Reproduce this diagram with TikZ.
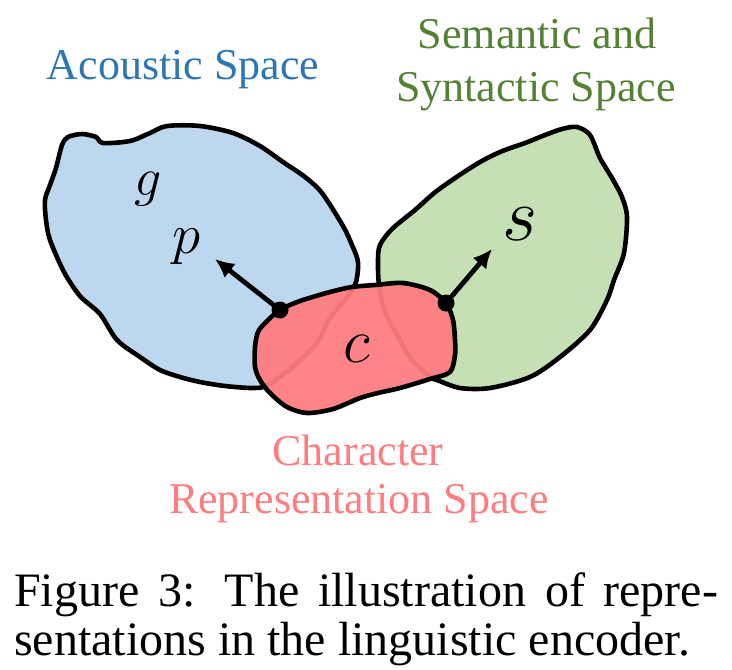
\RequirePackage{fix-cm}
\documentclass[tikz,border=0pt]{standalone}
\usepackage{fontspec}
\newfontfamily\tnr{Liberation Serif}
\usetikzlibrary{arrows.meta}
\definecolor{blobblue}{HTML}{BDD7EE}
\definecolor{blobgreen}{HTML}{C5E0B4}
\definecolor{blobred}{HTML}{FF7C80}
\definecolor{txtblue}{HTML}{2E75B6}
\definecolor{txtgreen}{HTML}{548235}
\definecolor{txtred}{HTML}{FF7C80}
\tikzset{
  blob/.style={draw=black, line width=4.6pt, line join=round},
  lbl/.style={inner sep=0pt, anchor=base, font=\tnr\fontsize{44}{48}\selectfont},
  mathlbl/.style={inner sep=0pt, anchor=base},
  vec/.style={line width=4.8pt, -{Latex[length=19pt,width=18pt]}},
  dotp/.style={circle, fill=black, inner sep=0pt, minimum size=17pt}
}
\begin{document}
\begin{tikzpicture}[x=1pt,y=-1pt]
\useasboundingbox (0,0) rectangle (732,670);
% acoustic space
\draw[blob, fill=blobblue] plot[smooth cycle, tension=0.5] coordinates {
(68,137) (82,134) (96,137) (103,143) (130,141) (150,133) (167,126) (200,126) (233,133) (260,146) (283,162) (305,177) (322,193) (343,226) (352,245) (358,262) (356,282) (348,296) (330,318) (317,343) (295,365) (268,385) (253,388) (225,386) (200,382) (180,377) (160,370) (140,357) (117,340) (100,314) (80,296) (64,272) (50,240) (46,220) (45,200) (50,185) (56,168) (62,145)};
% semantic and syntactic space
\draw[blob, fill=blobgreen] plot[smooth cycle, tension=0.5] coordinates {
(577,127) (590,135) (600,158) (612,178) (622,197) (627,217) (624,253) (614,280) (607,300) (590,330) (560,357) (530,377) (490,388) (460,388) (437,380) (430,377) (412,360) (400,340) (385,312) (379,285) (378,260) (380,245) (392,229) (415,210) (438,190) (475,165) (500,152) (525,143) (545,135) (562,129)};
% character representation space
\draw[blob, fill=blobred, fill opacity=0.94] plot[smooth cycle, tension=0.5] coordinates {
(280,310) (300,301) (330,292) (352,287) (375,285) (403,283) (430,290) (446,303) (453,320) (455,340) (455,355) (450,372) (430,379) (400,388) (378,393) (360,398) (333,409) (307,413) (287,407) (270,393) (260,380) (255,367) (255,347) (258,332) (266,322)};
% letters
\node[mathlbl, font=\fontsize{54}{54}\selectfont] (g) at (148,195) {$g$};
\node[mathlbl, font=\fontsize{57}{57}\selectfont] (p) at (187,253) {$p$};
\node[mathlbl, font=\fontsize{76}{76}\selectfont] (s) at (520,240) {$s$};
\node[mathlbl, font=\fontsize{63}{63}\selectfont] (c) at (357,362) {$c$};
% vectors
\node[dotp] (dl) at (280,310) {};
\node[dotp] (dr) at (446,303) {};
\coordinate (tipl) at (215,259);
\coordinate (tipr) at (492,249);
\draw[vec] (dl.center) -- (tipl);
\draw[vec] (dr.center) -- (tipr);
% labels
\node[lbl, text=txtblue] (ac) at (183,79) {Acoustic Space};
\node[lbl, text=txtgreen] (se1) at (537,48) {Semantic and};
\node[lbl, text=txtgreen] (se2) at (536,101) {Syntactic Space};
\node[lbl, text=txtred] (ch1) at (358,465) {Character};
\node[lbl, text=txtred] (ch2) at (359,513) {Representation Space};
% caption
\node[inner sep=0pt, anchor=base west, font=\tnr\fontsize{48}{52}\selectfont] (cap1) at (14,606) {\makebox[704pt][s]{Figure 3: The illustration of repre-}};
\node[inner sep=0pt, anchor=base west, font=\tnr\fontsize{48}{52}\selectfont] (cap2) at (14,655) {sentations in the linguistic encoder.};
\end{tikzpicture}
\end{document}
